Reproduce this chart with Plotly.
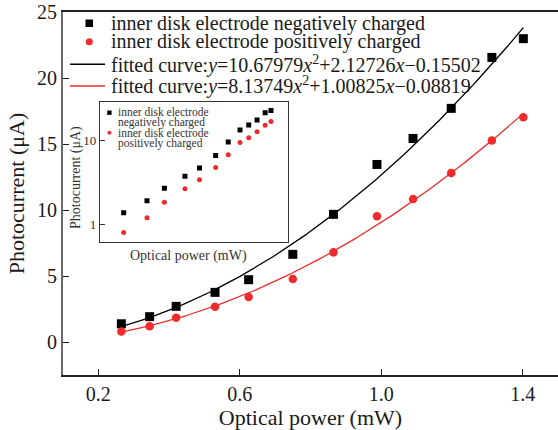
import numpy as np
import plotly.graph_objects as go

# ---------------- data ----------------
power_mw = [0.265, 0.345, 0.42, 0.53, 0.625, 0.75, 0.865, 0.988, 1.09, 1.198, 1.313, 1.402]
neg_current = [1.38, 1.92, 2.70, 3.76, 4.72, 6.64, 9.67, 13.45, 15.42, 17.70, 21.56, 22.98]
pos_current = [0.80, 1.20, 1.84, 2.67, 3.41, 4.77, 6.79, 9.52, 10.83, 12.80, 15.27, 17.02]

fit_neg_coef = [10.67979, 2.12726, -0.15502]   # a, b, c  (y = a x^2 + b x + c)
fit_pos_coef = [8.13749, 1.00825, -0.08819]

x_ticks = [0.2, 0.6, 1.0, 1.4]
y_ticks = [0, 5, 10, 15, 20, 25]
inset_y_ticks = [1, 10]

label_neg = "inner disk electrode negatively charged"
label_pos = "inner disk electrode positively charged"
label_fit_neg = "fitted curve:<i>y</i>=10.67979<i>x</i><sup>2</sup>+2.12726<i>x</i>\u22120.15502"
label_fit_pos = "fitted curve:<i>y</i>=8.13749<i>x</i><sup>2</sup>+1.00825<i>x</i>\u22120.08819"

# ---------------- layout constants ----------------
W, H = 558, 430
ML, MR, MT, MB = 63, 0, 12, 55
PW, PH = W - ML - MR, H - MT - MB
FONT = "Liberation Serif"
RED = "#ef2b2b"
INK = "#1a1a1a"


def px_x(p):
    return (p - ML) / PW


def px_y(p):
    return (H - MB - p) / PH


# fitted curves from the coefficients shown in the legend
xf = np.linspace(power_mw[0], power_mw[-1], 120)
yf_neg = np.polyval(fit_neg_coef, xf)
yf_pos = np.polyval(fit_pos_coef, xf)

fig = go.Figure()

# main plot
fig.add_trace(go.Scatter(x=xf, y=yf_neg, mode="lines", line=dict(color="black", width=1.3),
                         showlegend=False, hoverinfo="skip"))
fig.add_trace(go.Scatter(x=xf, y=yf_pos, mode="lines", line=dict(color=RED, width=1.3),
                         showlegend=False, hoverinfo="skip"))
fig.add_trace(go.Scatter(x=power_mw, y=neg_current, mode="markers",
                         marker=dict(symbol="square", size=9, color="black"), showlegend=False))
fig.add_trace(go.Scatter(x=power_mw, y=pos_current, mode="markers",
                         marker=dict(symbol="circle", size=8.5, color=RED), showlegend=False))

# inset (log-log)
fig.add_trace(go.Scatter(x=power_mw, y=neg_current, mode="markers", xaxis="x2", yaxis="y2",
                         marker=dict(symbol="square", size=5, color="black"), showlegend=False))
fig.add_trace(go.Scatter(x=power_mw, y=pos_current, mode="markers", xaxis="x2", yaxis="y2",
                         marker=dict(symbol="circle", size=5, color=RED), showlegend=False))

# ---------------- manual legends ----------------
shapes = []
annotations = []

# main legend
row_y = [23.3, 41.7, 64.3, 86.0]
texts = [label_neg, label_pos, label_fit_neg, label_fit_pos]
for yy, t in zip(row_y, texts):
    annotations.append(dict(x=px_x(109), y=px_y(yy), xref="paper", yref="paper", text=t,
                            showarrow=False, xanchor="left", yanchor="middle",
                            font=dict(family=FONT, size=20, color=INK)))
# square key
shapes.append(dict(type="rect", xref="paper", yref="paper",
                   x0=px_x(85.5), x1=px_x(93.0), y0=px_y(19.5), y1=px_y(27.0),
                   fillcolor="black", line=dict(width=0)))
# circle key
shapes.append(dict(type="circle", xref="paper", yref="paper",
                   x0=px_x(85.8), x1=px_x(92.8), y0=px_y(38.2), y1=px_y(45.2),
                   fillcolor=RED, line=dict(width=0)))
# line keys
shapes.append(dict(type="line", xref="paper", yref="paper", x0=px_x(70), x1=px_x(105),
                   y0=px_y(64.3), y1=px_y(64.3), line=dict(color="black", width=1.4)))
shapes.append(dict(type="line", xref="paper", yref="paper", x0=px_x(70), x1=px_x(105),
                   y0=px_y(86.0), y1=px_y(86.0), line=dict(color=RED, width=1.4)))

# inset legend
inset_rows = [(112.0, "inner disk electrode"), (122.5, "negatively charged"),
              (132.5, "inner disk electrode"), (143.0, "positively charged")]
for yy, t in inset_rows:
    annotations.append(dict(x=px_x(115.5), y=px_y(yy), xref="paper", yref="paper", text=t,
                            showarrow=False, xanchor="left", yanchor="middle",
                            font=dict(family=FONT, size=11.5, color="#333333")))
shapes.append(dict(type="rect", xref="paper", yref="paper",
                   x0=px_x(107.2), x1=px_x(111.6), y0=px_y(110.5), y1=px_y(114.9),
                   fillcolor="black", line=dict(width=0)))
shapes.append(dict(type="circle", xref="paper", yref="paper",
                   x0=px_x(107.4), x1=px_x(111.4), y0=px_y(130.7), y1=px_y(134.7),
                   fillcolor=RED, line=dict(width=0)))

# inset axis titles
annotations.append(dict(x=px_x(188), y=px_y(256), xref="paper", yref="paper",
                        text="Optical power (mW)", showarrow=False, xanchor="center",
                        yanchor="middle", font=dict(family=FONT, size=14, color="#333333")))
annotations.append(dict(x=px_x(76), y=px_y(178), xref="paper", yref="paper",
                        text="Photocurrent (\u03bcA)", showarrow=False, textangle=-90,
                        xanchor="center", yanchor="middle",
                        font=dict(family=FONT, size=14, color="#333333")))

fig.update_layout(
    width=W, height=H,
    margin=dict(l=ML, r=MR, t=MT, b=MB, autoexpand=False),
    paper_bgcolor="white", plot_bgcolor="white",
    font=dict(family=FONT, color=INK),
    shapes=shapes, annotations=annotations,
    xaxis=dict(range=[0.1, 1.5], tickvals=x_ticks, ticktext=[f"{v:.1f}" for v in x_ticks],
               automargin=False,
               ticks="inside", ticklen=6, tickwidth=1.2, tickcolor=INK,
               showline=True, linecolor="#222222", linewidth=1.6, mirror=True,
               showgrid=False, zeroline=False,
               tickfont=dict(family=FONT, size=20, color=INK),
               title=dict(text="Optical power (mW)", font=dict(family=FONT, size=22, color=INK),
                          standoff=2)),
    yaxis=dict(range=[-2.5, 25], tickvals=y_ticks, ticktext=[str(v) for v in y_ticks],
               automargin=False,
               ticks="inside", ticklen=6, tickwidth=1.2, tickcolor=INK,
               showline=True, linecolor="#6a6a6a", linewidth=2, mirror=False,
               showgrid=False, zeroline=False,
               tickfont=dict(family=FONT, size=20, color=INK),
               title=dict(text="Photocurrent (\u03bcA)", font=dict(family=FONT, size=22, color=INK),
                          standoff=6)),
    xaxis2=dict(type="log", range=[-0.693, 0.228], domain=[px_x(100), px_x(287.5)],
                anchor="y2", showticklabels=False, ticks="", showgrid=False, zeroline=False,
                automargin=False,
                showline=True, linecolor="#333333", linewidth=1.4, mirror=True),
    yaxis2=dict(type="log", range=[-0.215, 1.463], domain=[px_y(242.3), px_y(102)],
                anchor="x2", tickvals=inset_y_ticks, ticktext=["1", "10"],
                automargin=False,
                ticks="inside", ticklen=5, tickwidth=1, tickcolor="#333333",
                showgrid=False, zeroline=False,
                showline=True, linecolor="#333333", linewidth=1.4, mirror=True,
                tickfont=dict(family=FONT, size=13, color="#333333")),
)

fig.write_html("out.html", config={"displayModeBar": False},
               post_script="document.body.style.margin='0px';")
